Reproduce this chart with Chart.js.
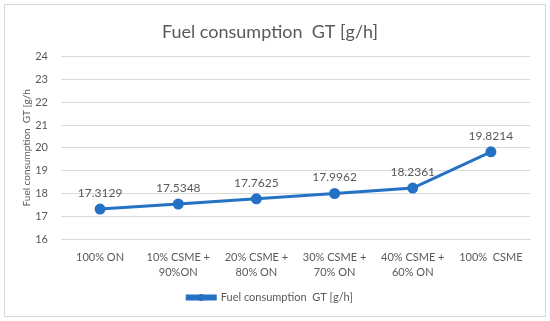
<!DOCTYPE html>
<html>
<head>
<meta charset="utf-8">
<script src="https://cdn.jsdelivr.net/npm/chart.js@4"></script>
<style>
html,body{margin:0;padding:0;background:#fff;}
#wrap{position:relative;width:550px;height:321px;}
</style>
</head>
<body>
<div id="wrap"><canvas id="c" width="550" height="321"></canvas></div>
<script>
const categories = [["100% ON"], ["10% CSME +", "90%ON"], ["20% CSME +", "80% ON"], ["30% CSME +", "70% ON"], ["40% CSME +", "60% ON"], ["100%  CSME"]];
const values = [17.3129, 17.5348, 17.7625, 17.9962, 18.2361, 19.8214];
const valueLabels = ["17.3129", "17.5348", "17.7625", "17.9962", "18.2361", "19.8214"];
const seriesName = "Fuel consumption  GT [g/h]";
const chartTitle = "Fuel consumption  GT [g/h]";
const yTitle = "Fuel consumption  GT [g/h";
const yMin = 16, yMax = 24, yStep = 1;

const BLUE = '#2571C3';
const GRAY = '#595959';
const FONT = 'Lato, "Open Sans", sans-serif';

const extras = {
  id: 'extras',
  beforeDraw(chart) {
    const ctx = chart.ctx;
    ctx.save();
    ctx.fillStyle = '#fff';
    ctx.fillRect(0, 0, chart.width, chart.height);
    ctx.strokeStyle = '#d9d9d9';
    ctx.lineWidth = 1;
    ctx.strokeRect(4.5, 4.5, 541, 312);
    ctx.restore();
  },
  afterDatasetsDraw(chart) {
    const ctx = chart.ctx;
    const meta = chart.getDatasetMeta(0);
    ctx.save();
    ctx.fillStyle = GRAY;
    ctx.font = '12px ' + FONT;
    ctx.textAlign = 'center';
    ctx.textBaseline = 'middle';
    meta.data.forEach((pt, i) => {
      ctx.fillText(valueLabels[i], pt.x, pt.y - 16);
    });
    ctx.restore();
  },
  afterDraw(chart) {
    const lg = chart.legend;
    if (!lg || !lg.legendHitBoxes || !lg.legendHitBoxes.length) return;
    const hb = lg.legendHitBoxes[0];
    const ctx = chart.ctx;
    ctx.save();
    ctx.fillStyle = BLUE;
    ctx.beginPath();
    ctx.arc(hb.left + 14, hb.top + hb.height / 2, 3.5, 0, Math.PI * 2);
    ctx.fill();
    ctx.restore();
  }
};

new Chart(document.getElementById('c'), {
  type: 'line',
  data: {
    labels: categories,
    datasets: [{
      label: seriesName,
      data: values,
      borderColor: BLUE,
      backgroundColor: BLUE,
      borderWidth: 3,
      pointRadius: 4,
      pointBackgroundColor: BLUE,
      pointBorderColor: BLUE,
      tension: 0
    }]
  },
  options: {
    responsive: false,
    animation: false,
    devicePixelRatio: 1,
    layout: { padding: { left: 10, right: 20, top: 21, bottom: 8 } },
    plugins: {
      title: {
        display: true,
        text: chartTitle,
        color: GRAY,
        font: { family: FONT, size: 18, weight: 'normal' },
        padding: { top: 0, bottom: 14 }
      },
      legend: {
        display: true,
        position: 'bottom',
        labels: {
          color: GRAY,
          font: { family: FONT, size: 11 },
          boxWidth: 28,
          boxHeight: 3,
          padding: 8
        }
      },
      tooltip: { enabled: false }
    },
    scales: {
      x: {
        offset: true,
        grid: { display: false, drawTicks: false, offset: true },
        border: { color: '#d9d9d9' },
        afterFit(scale) { scale.height = 45; },
        ticks: {
          color: GRAY,
          font: { family: FONT, size: 11, lineHeight: 1.45 },
          maxRotation: 0,
          autoSkip: false,
          padding: 10
        }
      },
      y: {
        min: yMin,
        max: yMax,
        afterFit(scale) { scale.width = 51; },
        grid: { color: '#d9d9d9', drawTicks: false },
        border: { display: false },
        ticks: {
          stepSize: yStep,
          color: GRAY,
          font: { family: FONT, size: 11 },
          padding: 13
        },
        title: {
          display: true,
          text: yTitle,
          color: GRAY,
          font: { family: FONT, size: 10 },
          padding: { top: 11, bottom: 0 }
        }
      }
    }
  },
  plugins: [extras]
});
</script>
</body>
</html>
